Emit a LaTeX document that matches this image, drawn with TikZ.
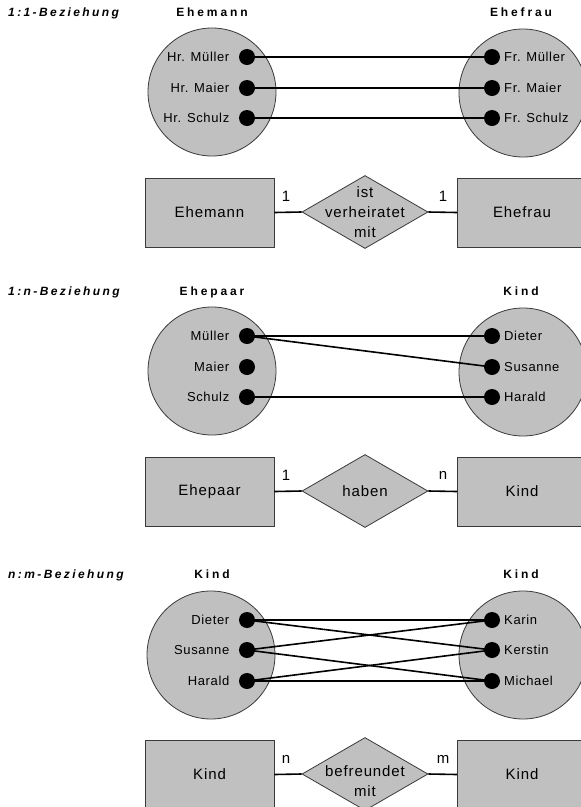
\documentclass[tikz,border=0pt]{standalone}
\usepackage{fontspec}
\setmainfont{Liberation Sans}
\newfontfamily\headfont[LetterSpace=24]{Liberation Sans}
\newfontfamily\titlefont[LetterSpace=20]{Liberation Sans}
\newfontfamily\itemfont[LetterSpace=5]{Liberation Sans}
\newfontfamily\boxfont[LetterSpace=6]{Liberation Sans}
\usetikzlibrary{shapes.geometric}
\definecolor{setgray}{HTML}{C0C0C0}
\definecolor{edgegray}{HTML}{3A3A3A}

\tikzset{
  setcircle/.style={circle, draw=edgegray, fill=setgray, line width=0.8pt,
    minimum size=128pt, inner sep=0pt},
  elem/.style={circle, fill=black, minimum size=16pt, inner sep=0pt},
  itemlabel/.style={font=\itemfont\fontsize{13}{15}\selectfont, inner sep=0pt},
  heading/.style={font=\headfont\bfseries\fontsize{12}{14}\selectfont, inner sep=0pt, anchor=base},
  title/.style={font=\titlefont\bfseries\itshape\fontsize{12}{14}\selectfont, inner sep=0pt, anchor=base west},
  entity/.style={draw=edgegray, fill=setgray, line width=0.8pt,
    minimum width=129pt, minimum height=69pt, inner sep=0pt,
    font=\boxfont\fontsize{15}{17}\selectfont},
  relation/.style={diamond, draw=edgegray, fill=setgray, line width=0.8pt,
    minimum width=126pt, minimum height=73pt, inner sep=0pt},
  reltext/.style={align=center, inner sep=0pt, font=\boxfont\fontsize{15}{20}\selectfont},
  card/.style={font=\boxfont\fontsize{15}{17}\selectfont, inner sep=0pt},
  link/.style={line width=1.6pt},
}

\begin{document}
\begin{tikzpicture}[x=1pt, y=-1pt]
\useasboundingbox (0,0) rectangle (581,807);

% ---------------- 1:1 ----------------
\node[title] (t1) at (8,16) {1:1-Beziehung};
\node[heading] (h1l) at (212,16) {Ehemann};
\node[heading] (h1r) at (521,16) {Ehefrau};
\node[setcircle] (c1l) at (212,92) {};
\node[setcircle] (c1r) at (523,93) {};
\node[elem] (a11) at (247,57) {};
\node[elem] (a12) at (247,88) {};
\node[elem] (a13) at (247,118) {};
\node[elem] (b11) at (492,57) {};
\node[elem] (b12) at (492,88) {};
\node[elem] (b13) at (492,118) {};
\node[itemlabel, anchor=base east] (a11t) at (229.5,61.6) {Hr. Müller};
\node[itemlabel, anchor=base east] (a12t) at (229.5,92.6) {Hr. Maier};
\node[itemlabel, anchor=base east] (a13t) at (229.5,122.6) {Hr. Schulz};
\node[itemlabel, anchor=base west] (b11t) at (504,61.6) {Fr. Müller};
\node[itemlabel, anchor=base west] (b12t) at (504,92.6) {Fr. Maier};
\node[itemlabel, anchor=base west] (b13t) at (504,122.6) {Fr. Schulz};
\draw[link] (a11.center) -- (b11.center);
\draw[link] (a12.center) -- (b12.center);
\draw[link] (a13.center) -- (b13.center);

\node[entity] (e1l) at (209.5,212.5) {Ehemann};
\node[relation] (r1) at (365,212) {};
\node[entity] (e1r) at (522,212.5) {Ehefrau};
\node[reltext] (r1t) at (365,212) {ist\\verheiratet\\mit};
\draw[link] (e1l.east) -- (r1.west);
\draw[link] (r1.east) -- (e1r.west);
\node[card] (k1l) at (286,196) {1};
\node[card] (k1r) at (443,196) {1};

% ---------------- 1:n ----------------
\begin{scope}[yshift=-279pt]
\node[title] (t2) at (8,16) {1:n-Beziehung};
\node[heading] (h2l) at (212,16) {Ehepaar};
\node[heading] (h2r) at (521,16) {Kind};
\node[setcircle] (c2l) at (212,92) {};
\node[setcircle] (c2r) at (523,93) {};
\node[elem] (a21) at (247,57) {};
\node[elem] (a22) at (247,88) {};
\node[elem] (a23) at (247,118) {};
\node[elem] (b21) at (492,57) {};
\node[elem] (b22) at (492,88) {};
\node[elem] (b23) at (492,118) {};
\node[itemlabel, anchor=base east] (a21t) at (229.5,61.6) {Müller};
\node[itemlabel, anchor=base east] (a22t) at (229.5,92.6) {Maier};
\node[itemlabel, anchor=base east] (a23t) at (229.5,122.6) {Schulz};
\node[itemlabel, anchor=base west] (b21t) at (504,61.6) {Dieter};
\node[itemlabel, anchor=base west] (b22t) at (504,92.6) {Susanne};
\node[itemlabel, anchor=base west] (b23t) at (504,122.6) {Harald};
\draw[link] (a21.center) -- (b21.center);
\draw[link] (a21.center) -- (b22.center);
\draw[link] (a23.center) -- (b23.center);

\node[entity] (e2l) at (209.5,212.5) {Ehepaar};
\node[relation] (r2) at (365,212) {};
\node[entity] (e2r) at (522,212.5) {Kind};
\node[reltext] (r2t) at (365,212) {haben};
\draw[link] (e2l.east) -- (r2.west);
\draw[link] (r2.east) -- (e2r.west);
\node[card] (k2l) at (286,196) {1};
\node[card] (k2r) at (443,196) {n};
\end{scope}

% ---------------- n:m ----------------
\begin{scope}[yshift=-562pt]
\node[title] (t3) at (8,16) {n:m-Beziehung};
\node[heading] (h3l) at (212,16) {Kind};
\node[heading] (h3r) at (521,16) {Kind};
\node[setcircle] (c3l) at (211,93) {};
\node[setcircle] (c3r) at (523,93) {};
\node[elem] (a31) at (247,58) {};
\node[elem] (a32) at (247,88) {};
\node[elem] (a33) at (247,119) {};
\node[elem] (b31) at (492,58) {};
\node[elem] (b32) at (492,88) {};
\node[elem] (b33) at (492,119) {};
\node[itemlabel, anchor=base east] (a31t) at (229.5,62.6) {Dieter};
\node[itemlabel, anchor=base east] (a32t) at (229.5,92.6) {Susanne};
\node[itemlabel, anchor=base east] (a33t) at (229.5,123.6) {Harald};
\node[itemlabel, anchor=base west] (b31t) at (504,62.6) {Karin};
\node[itemlabel, anchor=base west] (b32t) at (504,92.6) {Kerstin};
\node[itemlabel, anchor=base west] (b33t) at (504,123.6) {Michael};
\draw[link] (a31.center) -- (b31.center);
\draw[link] (a31.center) -- (b32.center);
\draw[link] (a32.center) -- (b31.center);
\draw[link] (a32.center) -- (b33.center);
\draw[link] (a33.center) -- (b32.center);
\draw[link] (a33.center) -- (b33.center);

\node[entity] (e3l) at (209.5,212.5) {Kind};
\node[relation] (r3) at (365,212) {};
\node[entity] (e3r) at (522,212.5) {Kind};
\node[reltext] (r3t) at (365,219) {befreundet\\mit};
\draw[link] (e3l.east) -- (r3.west);
\draw[link] (r3.east) -- (e3r.west);
\node[card] (k3l) at (286,197) {n};
\node[card] (k3r) at (443,197) {m};
\end{scope}
\end{tikzpicture}
\end{document}
